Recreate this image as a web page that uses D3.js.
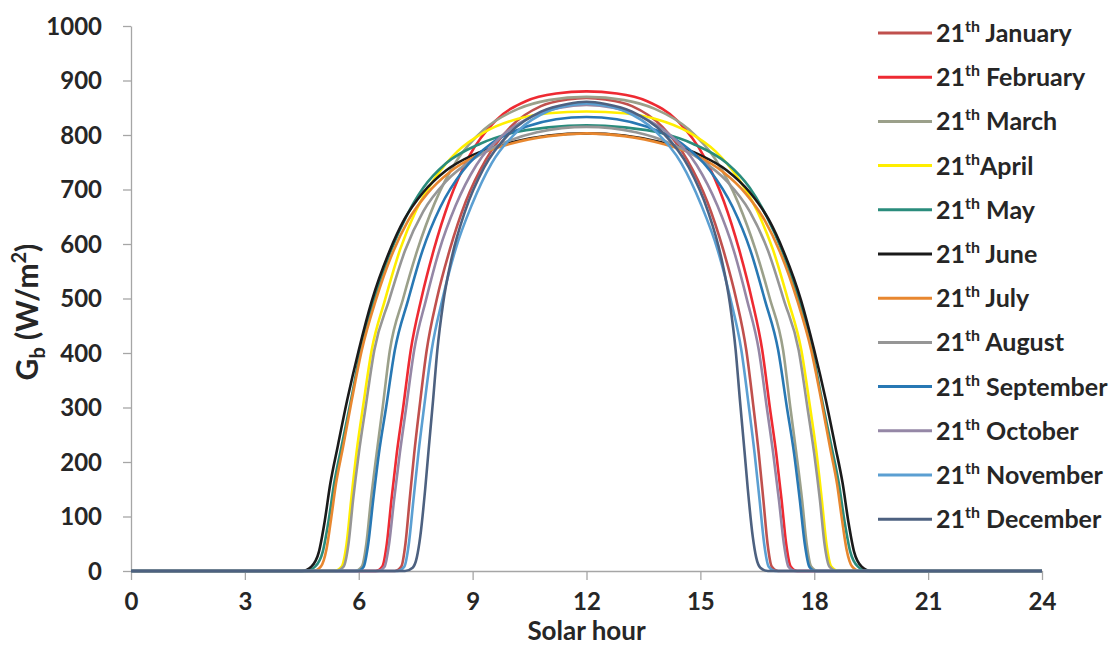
<!DOCTYPE html>
<html>
<head>
<meta charset="utf-8">
<script src="https://d3js.org/d3.v7.min.js"></script>
<style>
  body { margin: 0; background: #fff; }
  text { font-family: Lato, "Liberation Sans", sans-serif; font-weight: bold; fill: #262626; }
</style>
</head>
<body>
<svg width="1115" height="649"></svg>
<script>

// Beam radiation Gb (W/m2) against solar hour, one list of [hour, Gb] per month
var jan = [[0,0],[6.95,0],[7.12,8],[7.23,50],[7.34,130],[7.46,215],[7.6,300],[7.79,405],[8.06,500],[8.4,590],[8.82,678],[9.35,755],[10,815],[10.8,853],[11.5,865],[12,868],
  [12.5,865],[13.2,853],[14,815],[14.65,755],[15.18,678],[15.6,590],[15.94,500],[16.21,405],[16.4,300],[16.54,215],[16.66,130],[16.77,50],[16.88,8],[17.05,0],[24,0]];
var feb = [[0,0],[6.45,0],[6.62,8],[6.74,50],[6.86,130],[7,215],[7.17,300],[7.37,405],[7.65,500],[7.98,590],[8.38,678],[8.9,760],[9.6,826],[10.4,862],[11.2,876],[12,880],
  [12.8,876],[13.6,862],[14.4,826],[15.1,760],[15.62,678],[16.02,590],[16.35,500],[16.63,405],[16.83,300],[17,215],[17.14,130],[17.26,50],[17.38,8],[17.55,0],[24,0]];
var mar = [[0,0],[5.9,0],[6.08,8],[6.2,50],[6.32,130],[6.47,215],[6.63,300],[6.82,405],[7.17,500],[7.55,590],[8,675],[8.6,755],[9.3,810],[10.2,848],[11,864],[12,870],
  [13,864],[13.8,848],[14.7,810],[15.4,755],[16,675],[16.45,590],[16.83,500],[17.18,405],[17.37,300],[17.53,215],[17.68,130],[17.8,50],[17.92,8],[18.1,0],[24,0]];
var apr = [[0,0],[5.35,0],[5.55,8],[5.68,50],[5.8,130],[5.95,222],[6.12,305],[6.34,405],[6.69,497],[7.09,590],[7.5,660],[8,720],[8.6,770],[9.3,805],[10.2,830],[11,840],[12,843],
  [13,840],[13.8,830],[14.7,805],[15.4,770],[16,720],[16.5,660],[16.91,590],[17.31,497],[17.66,405],[17.88,305],[18.05,222],[18.2,130],[18.32,50],[18.45,8],[18.65,0],[24,0]];
var may = [[0,0],[4.6,0],[4.85,8],[5.05,35],[5.2,90],[5.35,160],[5.55,230],[5.8,315],[6.05,405],[6.4,497],[6.85,588],[7.25,650],[7.7,703],[8.3,748],[9.2,784],[10,803],[11,814],[12,818],
  [13,814],[14,803],[14.8,784],[15.7,748],[16.3,703],[16.75,650],[17.15,588],[17.6,497],[17.95,405],[18.2,315],[18.45,230],[18.65,160],[18.8,90],[18.95,35],[19.15,8],[19.4,0],[24,0]];
var jun = [[0,0],[4.5,0],[4.75,8],[4.95,35],[5.1,90],[5.25,160],[5.45,230],[5.7,315],[6,405],[6.35,497],[6.8,585],[7.2,645],[7.7,695],[8.3,735],[9,763],[10,786],[11,799],[12,803],
  [13,799],[14,786],[15,763],[15.7,735],[16.3,695],[16.8,645],[17.2,585],[17.65,497],[18,405],[18.3,315],[18.55,230],[18.75,160],[18.9,90],[19.05,35],[19.25,8],[19.5,0],[24,0]];
var jul = [[0,0],[4.8,0],[5,8],[5.15,40],[5.27,95],[5.4,160],[5.58,225],[5.82,315],[6.08,405],[6.45,497],[6.9,585],[7.3,643],[7.8,692],[8.4,732],[9.1,762],[10,784],[11,798],[12,803],
  [13,798],[14,784],[14.9,762],[15.6,732],[16.2,692],[16.7,643],[17.1,585],[17.55,497],[17.92,405],[18.18,315],[18.42,225],[18.6,160],[18.73,95],[18.85,40],[19,8],[19.2,0],[24,0]];
var aug = [[0,0],[5.4,0],[5.6,8],[5.73,50],[5.85,130],[6,215],[6.18,300],[6.41,405],[6.8,497],[7.22,588],[7.7,660],[8.3,715],[9,755],[9.8,785],[10.7,805],[12,815],
  [13.3,805],[14.2,785],[15,755],[15.7,715],[16.3,660],[16.78,588],[17.2,497],[17.59,405],[17.82,300],[18,215],[18.15,130],[18.27,50],[18.4,8],[18.6,0],[24,0]];
var sep = [[0,0],[5.97,0],[6.13,8],[6.25,50],[6.38,130],[6.53,215],[6.72,300],[6.95,405],[7.3,497],[7.68,588],[8.15,668],[8.75,735],[9.5,785],[10.4,815],[11.2,829],[12,833],
  [12.8,829],[13.6,815],[14.5,785],[15.25,735],[15.85,668],[16.32,588],[16.7,497],[17.05,405],[17.28,300],[17.47,215],[17.62,130],[17.75,50],[17.87,8],[18.03,0],[24,0]];
var oct = [[0,0],[6.5,0],[6.68,8],[6.8,50],[6.93,130],[7.08,215],[7.25,300],[7.46,405],[7.77,497],[8.12,588],[8.55,670],[9.1,745],[9.8,800],[10.6,835],[11.3,850],[12,855],
  [12.7,850],[13.4,835],[14.2,800],[14.9,745],[15.45,670],[15.88,588],[16.23,497],[16.54,405],[16.75,300],[16.92,215],[17.07,130],[17.2,50],[17.32,8],[17.5,0],[24,0]];
var nov = [[0,0],[7.02,0],[7.2,8],[7.32,50],[7.44,130],[7.57,215],[7.72,300],[7.92,405],[8.2,497],[8.54,588],[8.98,672],[9.5,748],[10.2,808],[11,844],[11.6,855],[12,858],
  [12.4,855],[13,844],[13.8,808],[14.5,748],[15.02,672],[15.46,588],[15.8,497],[16.08,405],[16.28,300],[16.43,215],[16.56,130],[16.68,50],[16.8,8],[16.98,0],[24,0]];
var dec = [[0,0],[7.22,0],[7.42,6],[7.53,25],[7.62,63],[7.75,150],[7.84,222],[7.96,315],[8.07,405],[8.22,490],[8.45,575],[8.8,660],[9.3,740],[10,805],[10.8,843],[11.5,857],[12,861],
  [12.5,857],[13.2,843],[14,805],[14.7,740],[15.2,660],[15.55,575],[15.78,490],[15.93,405],[16.04,315],[16.16,222],[16.25,150],[16.38,63],[16.47,25],[16.58,6],[16.78,0],[24,0]];

var months = ["January", "February", "March", "April", "May", "June",
              "July", "August", "September", "October", "November", "December"];
var seriesData = [jan, feb, mar, apr, may, jun, jul, aug, sep, oct, nov, dec];
var colors = ["#c0504d", "#ee2a32", "#9ba08a", "#ffee00", "#2a8c7c", "#1a1a1a",
              "#e8872f", "#969696", "#2878b4", "#9587a6", "#5b9fd2", "#4d6180"];
var xTicks = [0, 3, 6, 9, 12, 15, 18, 21, 24];
var yTicks = [0, 100, 200, 300, 400, 500, 600, 700, 800, 900, 1000];

var svg = d3.select("svg");

var x = d3.scaleLinear().domain([0, 24]).range([131, 1042]);
var y = d3.scaleLinear().domain([0, 1000]).range([571, 26]);

// axes
var xAxis = svg.append("g")
    .attr("transform", "translate(0,571)")
    .call(d3.axisBottom(x).tickValues(xTicks).tickSize(9).tickSizeOuter(0).tickPadding(13));
var yAxis = svg.append("g")
    .attr("transform", "translate(131,0)")
    .call(d3.axisLeft(y).tickValues(yTicks).tickFormat(d3.format("d"))
      .tickSize(8).tickSizeOuter(0).tickPadding(21));

svg.selectAll(".domain, .tick line").attr("stroke", "#a6a6a6").attr("stroke-width", 1.3);
svg.selectAll(".tick text")
    .attr("font-family", "Lato, 'Liberation Sans', sans-serif")
    .attr("font-weight", "bold")
    .attr("font-size", 24)
    .attr("fill", "#262626");
yAxis.selectAll(".tick text").attr("dy", "0.35em");

// axis titles
svg.append("text")
    .attr("x", x(12))
    .attr("y", 640)
    .attr("text-anchor", "middle")
    .attr("font-size", 26)
    .text("Solar hour");

var ylab = svg.append("text")
    .attr("transform", "translate(38,312) rotate(-90)")
    .attr("text-anchor", "middle")
    .attr("font-size", 30);
ylab.append("tspan").text("G");
ylab.append("tspan").attr("font-size", 20).attr("dy", 7).text("b");
ylab.append("tspan").attr("dy", -7).text(" (W/m");
ylab.append("tspan").attr("font-size", 20).attr("dy", -12).text("2");
ylab.append("tspan").attr("dy", 12).text(")");

// curves
var line = d3.line()
    .x(function(d) { return x(d[0]); })
    .y(function(d) { return y(d[1]); })
    .curve(d3.curveMonotoneX);

svg.append("g")
  .selectAll("path")
  .data(seriesData)
  .enter().append("path")
    .attr("fill", "none")
    .attr("stroke", function(d, i) { return colors[i]; })
    .attr("stroke-width", 2.6)
    .attr("d", line);

// legend
var legend = svg.append("g")
  .selectAll("g")
  .data(months)
  .enter().append("g")
    .attr("transform", function(d, i) { return "translate(878," + (33 + i * 44.2) + ")"; });

legend.append("line")
    .attr("x1", 0).attr("x2", 54)
    .attr("stroke", function(d, i) { return colors[i]; })
    .attr("stroke-width", 3);

var lt = legend.append("text")
    .attr("x", 58)
    .attr("y", 9)
    .attr("font-size", 25);
lt.append("tspan").text("21");
lt.append("tspan").attr("font-size", 16).attr("dy", -10).text("th");
lt.append("tspan").attr("dy", 10).text(function(d) { return d === "April" ? d : " " + d; });

</script>
</body>
</html>
